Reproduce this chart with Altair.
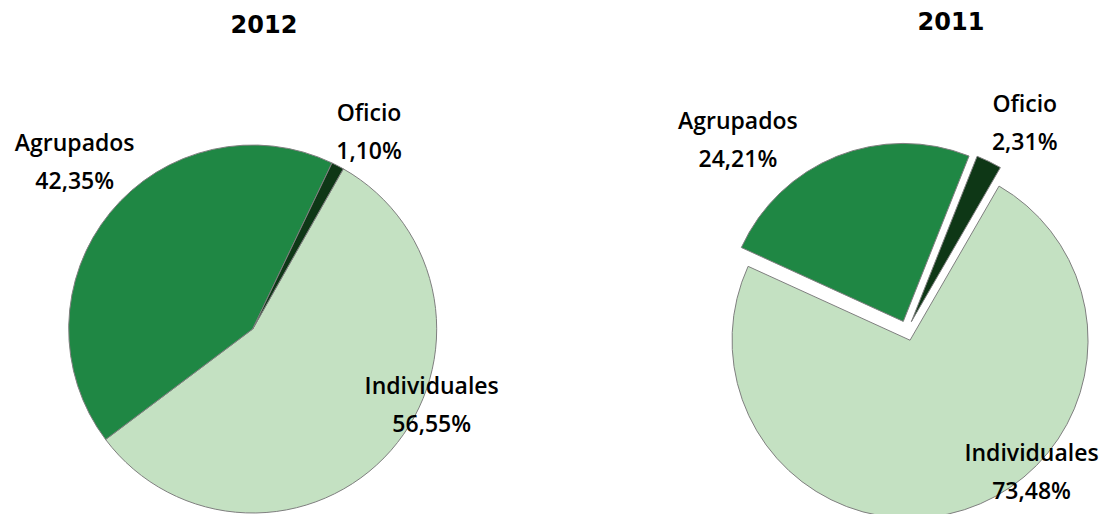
import math
import altair as alt
import pandas as pd

# ---- data ----
years = ["2012", "2011"]
categories = ["Individuales", "Agrupados", "Oficio"]
values_2012 = [56.55, 42.35, 1.10]
values_2011 = [73.48, 24.21, 2.31]
colors = ["#c4e1c2", "#1f8744", "#0e3716"]

rows = []
for y, vals in zip(years, [values_2012, values_2011]):
    for i, (c, v) in enumerate(zip(categories, vals)):
        rows.append({"year": y, "cat": c, "value": v, "order": i})
df = pd.DataFrame(rows)
vals_by_year = {"2012": values_2012, "2011": values_2011}

# ---- layout / style ----
W, H = 1107, 514
LINE_H = 38
pies = {
    "2012": dict(cx=252.7, cy=329, r=184, start=29.5, explode=0, tx=264, ty=26),
    "2011": dict(cx=907, cy=330.7, r=178, start=30, explode=10, tx=951, ty=23),
}
# label radius and pixel nudges
label_style = {
    ("2012", "Individuales"): (185, 40, -45),
    ("2012", "Agrupados"): (243, 10, -12),
    ("2012", "Oficio"): (228, 11, 6),
    ("2011", "Individuales"): (189, 67, -38),
    ("2011", "Agrupados"): (239, -80, 32),
    ("2011", "Oficio"): (238, 14, 7),
}
LABEL_FONT = "Open Sans"
TITLE_FONT = "DejaVu Sans"

color_scale = alt.Scale(domain=categories, range=colors)

layers = []
for y in years:
    p = pies[y]
    vals = vals_by_year[y]
    total = sum(vals)
    a0 = math.radians(p["start"])
    theta_scale = alt.Scale(domain=[0, total], range=[a0, a0 + 2 * math.pi])

    base = (
        alt.Chart(df)
        .transform_filter(alt.datum.year == y)
        .transform_window(cum="sum(value)", sort=[alt.SortField("order")], frame=[None, 0])
        .transform_calculate(
            start="datum.cum - datum.value",
            mid="datum.cum - datum.value / 2",
            label="datum.cat + '\\n' + replace(format(datum.value, '.2f'), '.', ',') + '%'",
        )
    )

    cum = 0.0
    for c, v in zip(categories, vals):
        mid_angle = a0 + 2 * math.pi * (cum + v / 2) / total
        cum += v
        ox = p["explode"] * math.sin(mid_angle)
        oy = -p["explode"] * math.cos(mid_angle)
        arc = (
            base.transform_filter(alt.datum.cat == c)
            .mark_arc(outerRadius=p["r"], stroke="#7f7f7f", strokeWidth=1,
                      xOffset=ox, yOffset=oy)
            .encode(
                theta=alt.Theta("start:Q", scale=theta_scale),
                theta2="cum:Q",
                color=alt.Color("cat:N", scale=color_scale, legend=None),
                x=alt.value(p["cx"]),
                y=alt.value(p["cy"]),
            )
        )
        layers.append(arc)

    for c in categories:
        rr, dx, dy = label_style[(y, c)]
        txt = (
            base.transform_filter(alt.datum.cat == c)
            .mark_text(radius=rr, dx=dx, dy=dy - LINE_H / 2, lineBreak="\n", lineHeight=LINE_H,
                       font=LABEL_FONT, fontSize=23, fontWeight=600, color="#000000",
                       align="center", baseline="middle")
            .encode(
                theta=alt.Theta("mid:Q", scale=theta_scale),
                text="label:N",
                x=alt.value(p["cx"]),
                y=alt.value(p["cy"]),
            )
        )
        layers.append(txt)

    title = (
        alt.Chart(pd.DataFrame({"year": years}))
        .transform_filter(alt.datum.year == y)
        .mark_text(font=TITLE_FONT, fontSize=24, fontWeight="bold", color="#000000",
                   align="center", baseline="middle")
        .encode(text="year:N", x=alt.value(p["tx"]), y=alt.value(p["ty"]))
    )
    layers.append(title)

chart = (
    alt.layer(*layers)
    .resolve_scale(theta="independent")
    .properties(width=W, height=H, padding=0, autosize=alt.AutoSizeParams(type="none"))
    .configure_view(stroke=None)
)

chart.save("out.html", embed_options={"renderer": "svg", "actions": False})
